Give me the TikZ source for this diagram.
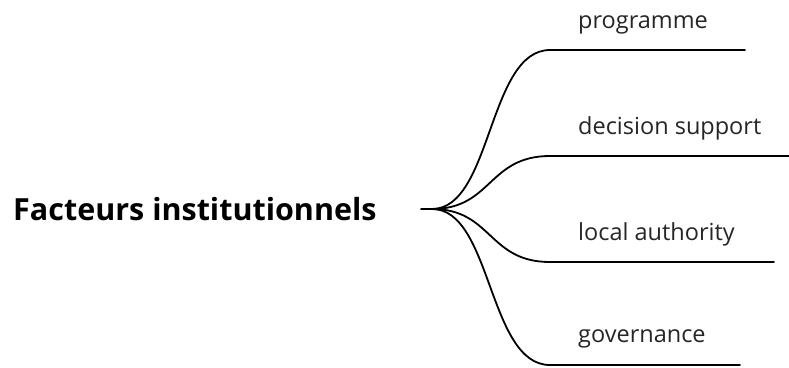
\documentclass[tikz,border=0pt]{standalone}
\usepackage{fontspec}
\setmainfont{Open Sans}
\begin{document}
\begin{tikzpicture}[x=1pt,y=-1pt,
  branch/.style={line width=1.8pt,line cap=round},
  leaf/.style={anchor=base west,inner sep=0pt,font=\fontsize{23.5}{28}\selectfont,text=black!85},
  rootlabel/.style={anchor=base west,inner sep=0pt,font=\fontsize{30.5}{36}\selectfont\bfseries}]
\useasboundingbox (0,0) rectangle (789,367);
\node[rootlabel] (root) at (13,220) {Facteurs institutionnels};
\coordinate (r0) at (421,209);
\coordinate (r1) at (432,209);
\coordinate (a0) at (550,50);  \coordinate (a1) at (745,50);
\coordinate (b0) at (550,156); \coordinate (b1) at (789,156);
\coordinate (c0) at (550,262); \coordinate (c1) at (774,262);
\coordinate (d0) at (550,365); \coordinate (d1) at (740,365);
\draw[branch] (r0) -- (r1);
\draw[branch] (r1) .. controls (492,209) and (488,50) .. (a0) -- (a1);
\draw[branch] (r1) .. controls (492,209) and (488,156) .. (b0) -- (b1);
\draw[branch] (r1) .. controls (492,209) and (488,262) .. (c0) -- (c1);
\draw[branch] (r1) .. controls (492,209) and (488,365) .. (d0) -- (d1);
\node[leaf] (la) at (578,28) {programme};
\node[leaf] (lb) at (578,134) {decision support};
\node[leaf] (lc) at (578,240) {local authority};
\node[leaf] (ld) at (578,342) {governance};
\end{tikzpicture}
\end{document}
